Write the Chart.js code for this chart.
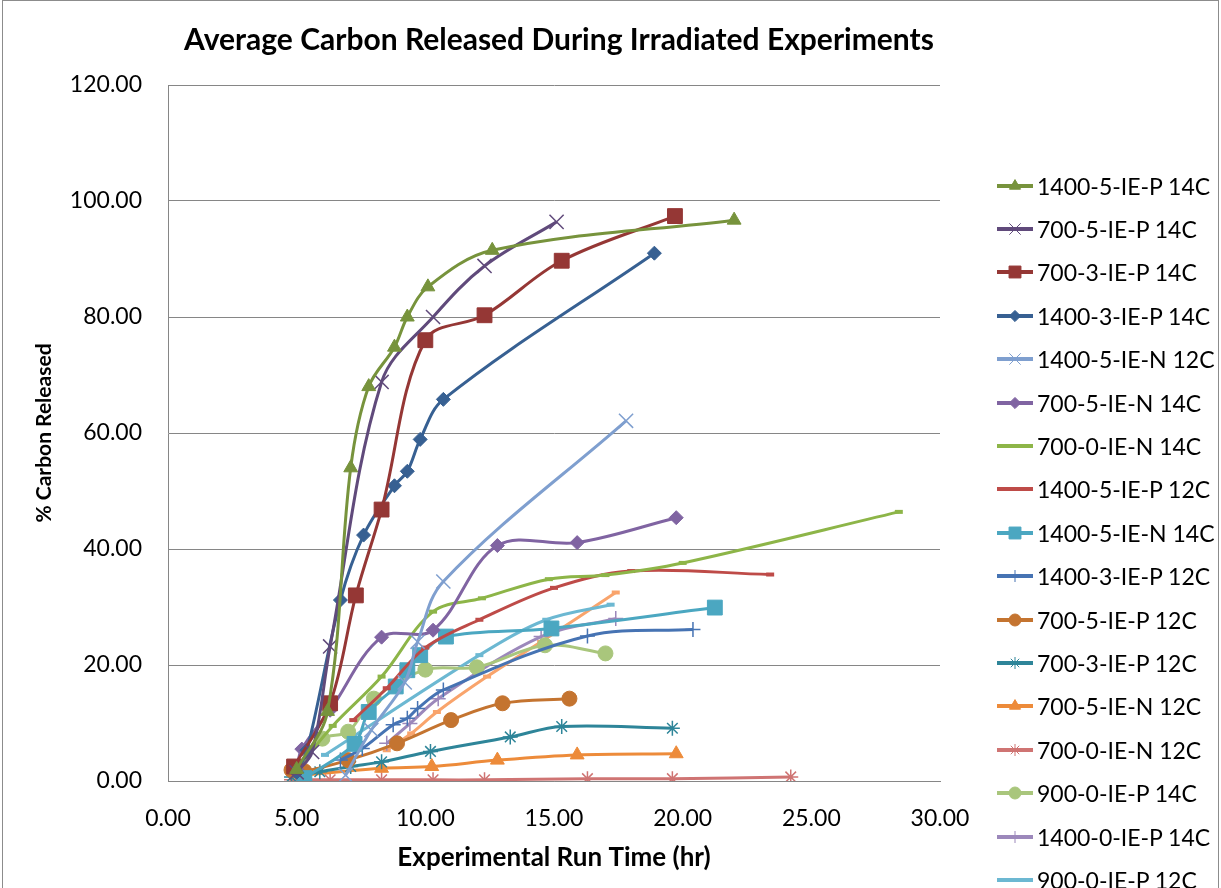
<!DOCTYPE html>
<html lang="en">
<head>
<meta charset="UTF-8">
<title>Average Carbon Released During Irradiated Experiments</title>
<script src="https://cdn.jsdelivr.net/npm/chart.js"></script>
<style>
  html, body { margin: 0; padding: 0; background: #fff; }
  body { width: 1221px; height: 888px; position: relative; overflow: hidden; font-family: Lato, 'Open Sans', sans-serif; }
  #frame { position: absolute; left: 2px; top: 0; width: 1217px; height: 888px; border: 1px solid #8c8c8c; border-bottom: none; box-sizing: border-box; pointer-events: none; }
  #title { position: absolute; top: 19px; left: 0; width: 1118px; text-align: center; font-weight: bold; font-size: 30px; line-height: 38px; color: #000; }
  #chart-1 { position: absolute; left: 0; top: 0; }
  #legend { position: absolute; left: 997px; top: 164px; }
  .item { height: 43.4px; display: flex; align-items: center; font-size: 23px; color: #000; white-space: nowrap; }
  .item canvas { margin-right: 4px; }
</style>
</head>
<body>
<canvas id="chart-1" width="1221" height="888"></canvas>
<div id="title">Average Carbon Released During Irradiated Experiments</div>
<div id="legend"></div>
<div id="frame"></div>

<script>
  // run time (hr) and % carbon released, one pair of arrays per run
  const hrs1400_5_IE_P_14C = [5.0, 6.2, 7.1, 7.8, 8.8, 9.3, 10.1, 12.6, 22.0];
  const pct1400_5_IE_P_14C = [2.0, 12.0, 54.0, 68.0, 74.8, 80.0, 85.2, 91.5, 96.7];

  const hrs700_5_IE_P_14C = [5.0, 5.6, 6.3, 8.3, 10.3, 12.3, 15.1];
  const pct700_5_IE_P_14C = [1.5, 5.0, 23.2, 68.8, 80.0, 88.8, 96.4];

  const hrs700_3_IE_P_14C = [4.9, 6.3, 7.3, 8.3, 10.0, 12.3, 15.3, 19.7];
  const pct700_3_IE_P_14C = [2.5, 13.4, 32.0, 46.8, 76.0, 80.3, 89.7, 97.4];

  const hrs1400_3_IE_P_14C = [5.0, 5.4, 6.7, 7.6, 8.8, 9.3, 9.8, 10.7, 18.9];
  const pct1400_3_IE_P_14C = [1.5, 5.3, 31.2, 42.4, 50.9, 53.4, 58.9, 65.8, 91.0];

  const hrs1400_5_IE_N_12C = [6.9, 7.9, 9.2, 9.7, 10.7, 17.8];
  const pct1400_5_IE_N_12C = [1.0, 8.8, 17.0, 24.0, 34.4, 62.1];

  const hrs700_5_IE_N_14C = [5.0, 5.2, 6.3, 8.3, 10.3, 12.8, 15.9, 19.75];
  const pct700_5_IE_N_14C = [2.0, 5.5, 12.2, 24.8, 26.0, 40.6, 41.1, 45.4];

  const hrs700_0_IE_N_14C = [5.0, 6.4, 8.3, 10.3, 12.2, 14.8, 17.0, 20.0, 28.4];
  const pct700_0_IE_N_14C = [2.0, 9.5, 18.0, 29.2, 31.5, 34.8, 35.5, 37.6, 46.4];

  const hrs1400_5_IE_P_12C = [7.2, 8.5, 10.0, 12.1, 15.0, 18.0, 23.4];
  const pct1400_5_IE_P_12C = [10.5, 16.0, 23.0, 27.8, 33.3, 36.2, 35.6];

  const hrs1400_5_IE_N_14C = [5.3, 7.25, 7.8, 8.85, 9.3, 9.8, 10.8, 14.9, 21.25];
  const pct1400_5_IE_N_14C = [0.5, 6.4, 11.9, 16.3, 19.1, 21.7, 24.9, 26.3, 29.9];

  const hrs1400_3_IE_P_12C = [6.7, 7.55, 8.75, 9.3, 9.7, 10.7, 16.3, 20.4];
  const pct1400_3_IE_P_12C = [3.6, 5.6, 9.7, 10.8, 12.5, 15.7, 25.0, 26.1];

  const hrs700_5_IE_P_12C = [4.8, 5.3, 7.0, 8.9, 11.0, 13.0, 15.6];
  const pct700_5_IE_P_12C = [1.9, 1.7, 3.6, 6.5, 10.5, 13.4, 14.2];

  const hrs700_3_IE_P_12C = [4.8, 5.9, 7.1, 8.3, 10.2, 13.3, 15.3, 19.6];
  const pct700_3_IE_P_12C = [0.7, 1.6, 2.5, 3.3, 5.1, 7.6, 9.4, 9.1];

  const hrs700_5_IE_N_12C = [5.2, 8.3, 10.25, 12.8, 15.9, 19.75];
  const pct700_5_IE_N_12C = [1.0, 2.2, 2.5, 3.6, 4.5, 4.7];

  const hrs700_0_IE_N_12C = [4.8, 5.3, 6.3, 8.3, 10.3, 12.3, 16.3, 19.6, 24.2];
  const pct700_0_IE_N_12C = [0.2, 0.2, 0.2, 0.2, 0.2, 0.2, 0.4, 0.4, 0.7];

  const hrs900_0_IE_P_14C = [5.0, 6.0, 7.0, 8.0, 10.0, 12.0, 14.65, 17.0];
  const pct900_0_IE_P_14C = [2.0, 7.3, 8.5, 14.2, 19.2, 19.6, 23.4, 22.0];

  const hrs1400_0_IE_P_14C = [8.5, 9.4, 10.5, 14.5, 17.4];
  const pct1400_0_IE_P_14C = [6.5, 9.9, 14.2, 24.9, 28.0];

  const hrs900_0_IE_P_12C = [6.1, 12.1, 14.7, 17.2];
  const pct900_0_IE_P_12C = [4.5, 21.7, 27.8, 30.4];

  // last run has no legend entry
  const hrsUnlisted = [8.5, 9.45, 10.45, 12.4, 14.5, 17.4];
  const pctUnlisted = [5.3, 8.2, 11.9, 18.0, 24.0, 32.5];

  const xTicks = [0, 5, 10, 15, 20, 25, 30];
  const yTicks = [0, 20, 40, 60, 80, 100, 120];

  const series = [
    { label: '1400-5-IE-P 14C', x: hrs1400_5_IE_P_14C, y: pct1400_5_IE_P_14C, color: '#77933c', style: 'triangle', r: 8 },
    { label: '700-5-IE-P 14C', x: hrs700_5_IE_P_14C, y: pct700_5_IE_P_14C, color: '#604a7b', style: 'crossRot', r: 10, thin: true },
    { label: '700-3-IE-P 14C', x: hrs700_3_IE_P_14C, y: pct700_3_IE_P_14C, color: '#953735', style: 'rect', r: 10.5 },
    { label: '1400-3-IE-P 14C', x: hrs1400_3_IE_P_14C, y: pct1400_3_IE_P_14C, color: '#376092', style: 'rectRot', r: 7 },
    { label: '1400-5-IE-N 12C', x: hrs1400_5_IE_N_12C, y: pct1400_5_IE_N_12C, color: '#7f9fcf', style: 'crossRot', r: 10, thin: true },
    { label: '700-5-IE-N 14C', x: hrs700_5_IE_N_14C, y: pct700_5_IE_N_14C, color: '#8064a2', style: 'rectRot', r: 7 },
    { label: '700-0-IE-N 14C', x: hrs700_0_IE_N_14C, y: pct700_0_IE_N_14C, color: '#8db548', style: 'line', r: 4 },
    { label: '1400-5-IE-P 12C', x: hrs1400_5_IE_P_12C, y: pct1400_5_IE_P_12C, color: '#be4b48', style: 'line', r: 4 },
    { label: '1400-5-IE-N 14C', x: hrs1400_5_IE_N_14C, y: pct1400_5_IE_N_14C, color: '#4ba7c1', style: 'rect', r: 10.5 },
    { label: '1400-3-IE-P 12C', x: hrs1400_3_IE_P_12C, y: pct1400_3_IE_P_12C, color: '#4673b3', style: 'cross', r: 7.5, thin: true },
    { label: '700-5-IE-P 12C', x: hrs700_5_IE_P_12C, y: pct700_5_IE_P_12C, color: '#c47430', style: 'circle', r: 7.5 },
    { label: '700-3-IE-P 12C', x: hrs700_3_IE_P_12C, y: pct700_3_IE_P_12C, color: '#2e8599', style: 'star', r: 7.5, thin: true },
    { label: '700-5-IE-N 12C', x: hrs700_5_IE_N_12C, y: pct700_5_IE_N_12C, color: '#ed8b3a', style: 'triangle', r: 8 },
    { label: '700-0-IE-N 12C', x: hrs700_0_IE_N_12C, y: pct700_0_IE_N_12C, color: '#cf7473', style: 'star', r: 7.5, thin: true },
    { label: '900-0-IE-P 14C', x: hrs900_0_IE_P_14C, y: pct900_0_IE_P_14C, color: '#a9c67c', style: 'circle', r: 7.5 },
    { label: '1400-0-IE-P 14C', x: hrs1400_0_IE_P_14C, y: pct1400_0_IE_P_14C, color: '#9c88bb', style: 'cross', r: 7.5, thin: true },
    { label: '900-0-IE-P 12C', x: hrs900_0_IE_P_12C, y: pct900_0_IE_P_12C, color: '#6cb8d2', style: 'line', r: 4 },
    { label: '', x: hrsUnlisted, y: pctUnlisted, color: '#f9a46c', style: 'line', r: 4, hidden: true }
  ];

  const tickFont = { family: 'Lato', size: 23 };

  const datasets = series.map(s => ({
    label: s.label,
    data: s.x.map((x, i) => ({ x: x, y: s.y[i] })),
    borderColor: s.color,
    backgroundColor: s.color,
    borderWidth: 3,
    tension: 0.35,
    pointStyle: s.style,
    pointRadius: s.r,
    pointBackgroundColor: s.color,
    pointBorderColor: s.color,
    pointBorderWidth: s.thin ? 1.5 : (s.style === 'line' ? 4 : 1)
  }));

  const ctx = document.getElementById('chart-1');
  const chart = new Chart(ctx, {
    type: 'line',
    data: { datasets },
    options: {
      responsive: false,
      animation: false,
      layout: { padding: { top: 85, right: 281, left: 0, bottom: 0 } },
      plugins: { legend: { display: false }, tooltip: { enabled: false } },
      scales: {
        x: {
          type: 'linear', min: 0, max: 30,
          afterBuildTicks: s => { s.ticks = xTicks.map(v => ({ value: v })); },
          ticks: { callback: v => v.toFixed(2), font: tickFont, color: '#000', padding: 24, maxRotation: 0 },
          grid: { display: false, drawTicks: false },
          border: { color: '#868686', width: 1 },
          title: { display: true, text: 'Experimental Run Time (hr)', font: { family: 'Lato', size: 26, weight: 'bold' }, color: '#000', padding: { top: 2, bottom: 15 } },
          afterFit: s => { s.height = 107; }
        },
        y: {
          min: 0, max: 120,
          afterBuildTicks: s => { s.ticks = yTicks.map(v => ({ value: v })); },
          ticks: { callback: v => v.toFixed(2), font: tickFont, color: '#000', padding: 26 },
          grid: { color: '#868686', lineWidth: 1, drawTicks: false },
          border: { color: '#868686', width: 1 },
          title: { display: true, text: '% Carbon Released', font: { family: 'Lato', size: 21, weight: 'bold' }, color: '#000', padding: { top: 32, bottom: 0 } },
          afterFit: s => { s.width = 168; }
        }
      }
    }
  });

  // legend: a short line with the series marker, then the name
  const legend = document.getElementById('legend');
  series.filter(s => !s.hidden).forEach(s => {
    const row = document.createElement('div');
    row.className = 'item';
    const c = document.createElement('canvas');
    c.width = 36; c.height = 22;
    const g = c.getContext('2d');
    g.strokeStyle = s.color;
    g.lineWidth = 4;
    g.beginPath(); g.moveTo(0, 11); g.lineTo(36, 11); g.stroke();
    if (s.style !== 'line') {
      g.fillStyle = s.color;
      g.strokeStyle = s.color;
      g.lineWidth = 1;
      Chart.helpers.drawPoint(g, { pointStyle: s.style, radius: s.r * 0.8, rotation: 0, borderWidth: 1 }, 18, 11);
    }
    const span = document.createElement('span');
    span.textContent = s.label;
    row.appendChild(c);
    row.appendChild(span);
    legend.appendChild(row);
  });
</script>
</body>
</html>
